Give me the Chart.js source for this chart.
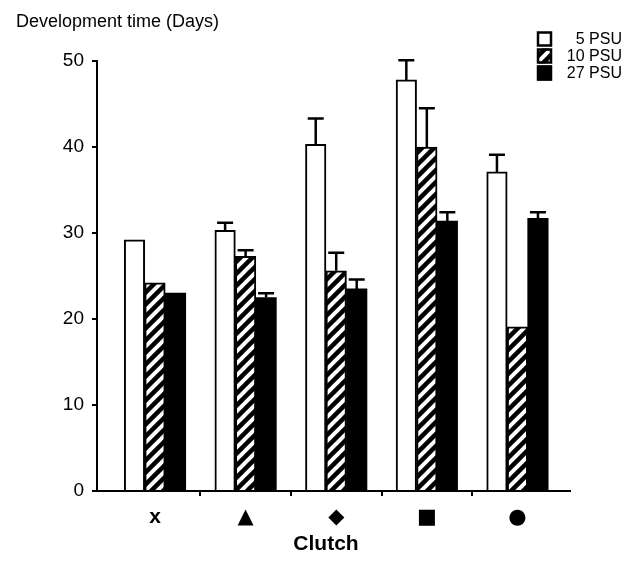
<!DOCTYPE html>
<html>
<head>
<meta charset="utf-8">
<script src="https://cdn.jsdelivr.net/npm/chart.js@4.4.0/dist/chart.umd.min.js"></script>
<style>
  html, body { margin: 0; padding: 0; background: #fff; }
  #wrap { width: 633px; height: 579px; }
</style>
</head>
<body>
<div id="wrap"><canvas id="chart" width="633" height="579"></canvas></div>
<script>
// clutch symbols on the x axis
const clutches = ["x", "\u25B2", "\u25C6", "\u25A0", "\u25CF"];
const seriesNames = ["5 PSU", "10 PSU", "27 PSU"];

// development time (days)
const psu5 = [29.2, 30.3, 40.3, 47.8, 37.1];
const psu10 = [24.2, 27.3, 25.6, 40.0, 19.1];
const psu27 = [23.0, 22.5, 23.5, 31.4, 31.7];

// upper error bars (only drawn up)
const psu5Err = [0, 0.9, 3.0, 2.3, 2.0];
const psu10Err = [0, 0.7, 2.1, 4.5, 0];
const psu27Err = [0, 0.5, 1.1, 1.0, 0.7];

const yTicks = [0, 10, 20, 30, 40, 50];
const xTicks = [0, 0.5, 1, 1.5, 2, 2.5, 3, 3.5, 4];

const FONT = "'Liberation Sans', Arial, Helvetica, sans-serif";
const SYMFONT = "'DejaVu Sans', 'Liberation Sans', sans-serif";

const canvas = document.getElementById("chart");
const ctx = canvas.getContext("2d");

function makeHatch() {
    const c = document.createElement("canvas");
    const s = 12;
    c.width = s;
    c.height = s;
    const g = c.getContext("2d");
    g.fillStyle = "#000";
    g.fillRect(0, 0, s, s);
    g.strokeStyle = "#fff";
    g.lineWidth = 4;
    g.beginPath();
    g.moveTo(-3, s + 3);
    g.lineTo(s + 3, -3);
    g.moveTo(-3, 3);
    g.lineTo(3, -3);
    g.moveTo(s - 3, s + 3);
    g.lineTo(s + 3, s - 3);
    g.stroke();
    return ctx.createPattern(c, "repeat");
}
const hatch = makeHatch();

const toPoints = (arr) => arr.map((v, i) => ({ x: i, y: v }));

const errorBars = {
    id: "errorBars",
    afterDatasetsDraw(chart) {
        const c = chart.ctx;
        const y = chart.scales.y;
        chart.data.datasets.forEach((ds, di) => {
            const meta = chart.getDatasetMeta(di);
            meta.data.forEach((bar, i) => {
                const e = ds.errors[i];
                if (!e) return;
                const top = y.getPixelForValue(ds.data[i].y + e);
                c.save();
                c.strokeStyle = "#000";
                c.lineWidth = 2.5;
                c.beginPath();
                c.moveTo(bar.x, bar.y);
                c.lineTo(bar.x, top);
                c.moveTo(bar.x - 8, top);
                c.lineTo(bar.x + 8, top);
                c.stroke();
                c.restore();
            });
        });
    },
};

// y title at top left, x title, legend box at top right
const decorations = {
    id: "decorations",
    afterDraw(chart) {
        const c = chart.ctx;
        c.save();
        c.fillStyle = "#000";
        c.font = "18px " + FONT;
        c.textBaseline = "middle";
        c.textAlign = "left";
        c.fillText("Development time (Days)", 16, 22);

        c.font = "bold 21px " + FONT;
        c.textAlign = "center";
        c.fillText("Clutch", 326, 544);

        const rows = [39, 56, 73];
        chart.data.datasets.forEach((ds, i) => {
            const yc = rows[i];
            c.fillStyle = ds.backgroundColor;
            c.fillRect(537, yc - 7.5, 15, 15);
            c.strokeStyle = "#000";
            c.lineWidth = 2.5;
            c.strokeRect(538, yc - 6.5, 13, 13);
            c.fillStyle = "#000";
            c.font = "16px " + FONT;
            c.textAlign = "right";
            c.fillText(ds.label, 622, yc + 1);
        });
        c.restore();
    },
};

new Chart(canvas, {
    type: "bar",
    data: {
        datasets: [
            {
                label: seriesNames[0],
                data: toPoints(psu5),
                errors: psu5Err,
                backgroundColor: "#fff",
                borderColor: "#000",
                borderWidth: 2,
            },
            {
                label: seriesNames[1],
                data: toPoints(psu10),
                errors: psu10Err,
                backgroundColor: hatch,
                borderColor: "#000",
                borderWidth: 2,
            },
            {
                label: seriesNames[2],
                data: toPoints(psu27),
                errors: psu27Err,
                backgroundColor: "#000",
                borderColor: "#000",
                borderWidth: 0,
            },
        ],
    },
    options: {
        responsive: false,
        animation: false,
        events: [],
        barThickness: 20.5,
        layout: {
            padding: { top: 61, right: 63, bottom: 0, left: 0 },
        },
        plugins: {
            legend: { display: false },
            tooltip: { enabled: false },
        },
        scales: {
            x: {
                type: "linear",
                offset: false,
                min: -0.64,
                max: 4.58,
                afterBuildTicks(scale) {
                    scale.ticks = xTicks.map((v) => ({ value: v }));
                },
                afterFit(scale) {
                    scale.height = 88;
                },
                ticks: {
                    autoSkip: false,
                    maxRotation: 0,
                    padding: 9,
                    color: "#000",
                    callback(v) {
                        return Number.isInteger(v) ? clutches[v] : "";
                    },
                    font(context) {
                        if (context.index === 0) return { family: FONT, size: 21, weight: "bold" };
                        return { family: SYMFONT, size: 21 };
                    },
                },
                grid: {
                    offset: false,
                    drawOnChartArea: false,
                    drawTicks: true,
                    tickLength: 5,
                    lineWidth: 2,
                    color(context) {
                        return context.tick && !Number.isInteger(context.tick.value) ? "#000" : "rgba(0,0,0,0)";
                    },
                },
                border: { display: true, color: "#000", width: 2 },
            },
            y: {
                min: 0,
                max: 50,
                afterBuildTicks(scale) {
                    scale.ticks = yTicks.map((v) => ({ value: v }));
                },
                afterFit(scale) {
                    scale.width = 97;
                },
                ticks: {
                    padding: 8,
                    color: "#000",
                    font: { family: FONT, size: 19 },
                },
                grid: {
                    drawOnChartArea: false,
                    drawTicks: true,
                    tickLength: 5,
                    lineWidth: 2,
                    color: "#000",
                },
                border: { display: true, color: "#000", width: 2 },
            },
        },
    },
    plugins: [errorBars, decorations],
});
</script>
</body>
</html>
